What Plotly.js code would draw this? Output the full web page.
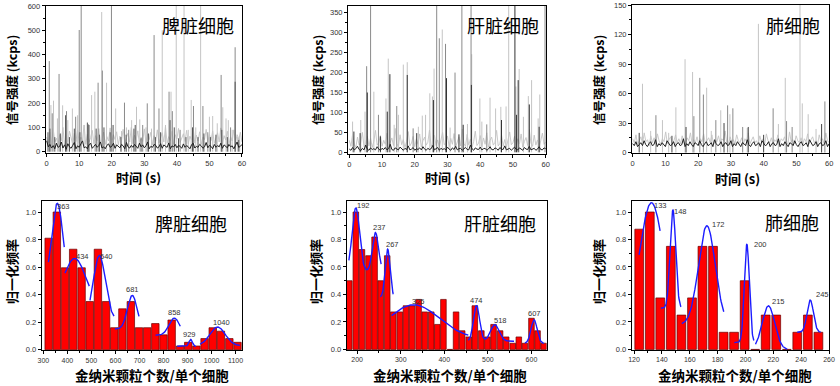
<!DOCTYPE html>
<html><head><meta charset="utf-8">
<script src="https://cdn.plot.ly/plotly-3.0.1.min.js"></script>
<style>html,body{margin:0;padding:0;background:#fff}#c{width:840px;height:386px}</style>
</head><body><div id="c"></div>
<script>
// ---------- Top row: signal time traces (time s, intensity kcps) ----------
const spleenLightSpikes = [[1.3,192],[2.1,210],[3.3,137],[4.9,191],[6.5,130],[7.9,178],[9.5,150],[11.5,110],[13.8,233],[14.8,247],[16.9,575],[18.4,284],[21.2,178],[23.0,85],[24.5,100],[26.1,130],[27.6,185],[28.6,133],[30.5,100],[32.2,95],[35.5,500],[36.5,110],[38.2,247],[39.8,620],[42.2,620],[43.5,90],[44.4,213],[45.8,100],[47.3,620],[50.0,144],[51.0,147],[52.4,117],[54.1,183],[55.1,137],[55.8,130],[57.0,90],[58.6,60],[59.3,65]];
const spleenMidSpikes = [[0.8,373],[1.7,158],[3.8,320],[6.1,167],[8.9,144],[10.0,501],[10.6,620],[12.8,113],[15.8,284],[17.1,334],[19.9,620],[23.9,202],[25.2,90],[29.5,110],[30.9,199],[33.0,480],[34.5,178],[37.6,247],[38.6,167],[41.0,90],[45.1,188],[48.0,188],[49.5,80],[53.6,316],[56.5,100],[57.9,430]];
const spleenDarkSpikes = [[0.4,80],[1.0,95],[2.5,60],[4.2,75],[5.8,150],[7.0,60],[8.5,95],[10.2,80],[12.5,120],[13.0,110],[15.2,95],[16.2,70],[17.6,100],[19.5,80],[20.4,110],[22.8,60],[24.4,70],[26.8,95],[27.2,110],[29.0,55],[31.3,75],[33.4,60],[35.0,80],[37.9,130],[39.2,100],[40.5,55],[42.8,60],[44.8,100],[46.5,60],[48.3,75],[50.3,60],[52.0,70],[53.8,90],[55.5,60],[57.9,288],[59.0,50]];
const spleenGrayNoise = [60,35,80,25,95,40,55,30,70,45,100,28,65,38,85,50,30,75,42,90,35,60,48,110,30,72,40,58,88,33,66,45,95,38,52,80,30,62,44,98,36,70,50,82,28,64,46,92,34,58,76,40,100,32,68,48,86,30,60,42,94,38,72,50,80,28,66,44,90,36,56,78,40,104,34,62,46,84,30,70,52,96,38,58,74,42,88,32,64,48,100,36,68,44,82,30,60,50,92,38,72,46,86,34,56,78,40,98,32,66,48,84,30,62,44,90,36,70,52,80,40];
const spleenDarkNoise = [45,20,30,15,25,12,35,18,22,40,15,28,10,33,20,14,26,38,12,24,18,30,45,16,20,12,28,35,14,22,30,18,25,40,15,20,12,26,32,18,22,35,14,28,20,16,30,24,12,38,20,15,26,18,30,22,14,35,20,28,16,24,40,12,22,18,30,26,15,20,33,14,28,22,18,36,12,24,20,30,16,26,22,14,32,18,25,20,12,28,35,15,22,18,30,24,14,20,38,16,26,22,12,30,18,25,20,35,14,28,22,16,30,20,24,12,26,40,18,22,30];

const liverLightSpikes = [[1.0,77],[3.5,81],[4.8,102],[7.5,152],[11.2,135],[11.9,235],[13.7,69],[15.0,94],[16.5,220],[17.7,226],[21.1,64],[22.3,92],[23.3,94],[24.6,148],[25.4,140],[25.9,210],[28.4,308],[30.8,62],[36.1,71],[37.4,246],[39.9,135],[40.5,77],[43.0,137],[44.7,110],[46.3,114],[47.9,115],[48.7,380],[50.9,165],[51.9,209],[53.2,89],[54.7,141],[55.7,181],[57.7,85],[58.2,145]];
const liverMidSpikes = [[5.3,216],[6.5,380],[8.9,94],[14.5,116],[19.5,60],[26.7,380],[27.5,286],[29.4,272],[32.3,200],[34.4,380],[37.2,380],[42.0,70],[59.8,380]];
const liverDarkSpikes = [[1.4,52],[3.3,48],[5.5,150],[9.5,40],[11.6,102],[12.4,196],[17.7,194],[20.6,48],[25.7,131],[29.7,186],[33.5,45],[34.8,69],[37.3,169],[46.5,81],[50.6,380],[51.1,94],[51.6,181],[55.0,120],[58.0,64]];
const liverGrayNoise = [30,15,45,20,12,38,18,25,50,14,22,40,16,35,12,28,55,18,24,42,15,30,20,48,13,26,36,17,60,22,14,44,19,32,12,27,52,16,23,40,14,34,20,46,13,29,38,18,25,56,15,21,43,17,31,12,28,50,19,24,41,14,35,20,47,13,26,39,16,58,22,15,45,18,33,12,27,53,17,23,42,14,36,20,49,13,30,38,18,25,55,16,22,44,15,32,12,28,51,19,24,40,14,34,21,46,13,27,37,17,57,23,15,43,18,31,12,29,48,20,26];
const liverDarkNoise = [8,5,12,6,9,15,7,4,10,6,18,8,5,11,7,9,6,14,8,5,10,7,12,6,9,20,7,5,11,8,6,13,9,5,10,7,16,6,8,12,5,9,7,11,6,14,8,5,10,7,9,17,6,8,12,5,10,7,9,6,13,8,5,11,7,15,6,9,10,5,8,12,7,6,18,9,5,11,8,7,13,6,9,10,5,8,14,7,6,11,9,5,12,8,7,16,6,9,10,5,8,13,7,6,11,9,5,12,8,7,15,6,9,10,5,8,14,7,6,11,9];

const lungLightSpikes = [[3.0,70],[5.5,22],[9.1,33],[11.0,20],[13.2,46],[16.0,95],[18.3,82],[22.6,66],[24.0,22],[26.9,43],[29.7,39],[35.0,25],[38.4,131],[44.5,29],[46.6,76],[51.1,160],[51.8,50],[53.6,39],[56.0,24]];
const lungMidSpikes = [[7.1,38],[18.7,37],[20.5,76],[21.6,59],[25.4,33],[29.0,48],[30.6,45],[33.6,26],[42.9,45],[47.0,32],[48.7,26],[58.7,52]];
const lungDarkSpikes = [[2.0,20],[12.0,17],[16.3,26],[27.9,30],[35.3,26],[40.0,18],[57.7,29]];
const lungGrayNoise = [14,10,18,8,12,16,9,20,11,13,7,17,10,15,9,19,12,8,14,11,21,9,13,16,8,12,18,10,14,9,17,11,8,15,12,20,9,13,10,16,8,14,11,19,9,12,15,10,18,8,13,11,17,9,14,12,22,10,8,16,11,13,9,18,12,10,15,8,14,11,20,9,13,16,10,12,8,17,11,14,9,19,12,10,15,8,13,11,18,9,14,12,16,10,8,21,11,13,9,17,12,10,15,8,14,11,19,9,13,16,10,12,8,18,11,14,9,20,12,10];
const lungDarkNoise = [9,7,11,6,8,10,7,12,8,6,9,11,7,8,13,6,9,7,10,8,6,12,9,7,8,11,6,9,10,7,8,14,6,9,7,11,8,6,10,9,7,12,8,6,9,11,7,8,10,6,13,9,7,8,11,6,9,10,7,8,12,6,9,7,11,8,6,10,9,7,13,8,6,9,11,7,8,10,6,12,9,7,8,11,6,9,10,7,8,14,6,9,7,11,8,6,10,9,7,12,8,6,9,11,7,8,10,6,13,9,7,8,11,6,9,10,7,8,12,6,9];

// ---------- Bottom row: histograms (particles per cell, normalised frequency) ----------
const spleenBins = [322,356,390,424,459,493,527,561,595,629,664,698,732,766,800,834,869,903,937,971,1005,1039,1074,1108];
const spleenFreq = [0.81,1.0,0.595,0.73,0.595,0.35,0.73,0.35,0.16,0.297,0.35,0.16,0.16,0.19,0.108,0.216,0.027,0.054,0.027,0.081,0.16,0.135,0.081,0.054];
const liverBins = [182,197,211,226,240,254,269,283,298,312,326,341,355,370,384,398,413,427,441,456,470,485,499,513,528,542,557,571,585,600,614,628];
const liverFreq = [0.5,1.0,0.727,0.682,0.818,0.5,0.682,0.273,0.273,0.318,0.318,0.364,0.273,0.273,0.182,0.364,0,0.273,0.136,0.091,0.318,0.136,0.091,0.182,0.136,0.091,0.045,0.091,0.045,0.227,0.136,0.045];
const lungBins = [123.7,131.3,138.8,146.4,154.0,161.6,169.1,176.7,184.3,191.8,199.4,207.0,214.5,222.1,229.7,237.2,244.8,252.4];
const lungFreq = [0.875,1.0,0.375,0.75,0.25,0.375,0.75,0.75,0.125,0.125,0.5,0,0.25,0.25,0,0.125,0.25,0.125];

// Gaussian fits: [from, to, baseline, [[centre, amplitude, sigma], ...]]
const spleenFits = [[321,387,0.45,[[358,0.613,24]]],[390,491,0.3,[[430,0.363,48]]],[494,594,0.22,[[533,0.465,25]]],[598,698,0.15,[[670,0.245,20]]],[767,870,0.105,[[845,0.125,22]]],[857,935,0.025,[[913,0.05,7]]],[952,1118,0.03,[[1025,0.135,32]]]];
const liverFits = [[181,255,0.57,[[197,0.46,8.5],[242,0.28,7]]],[253,283,0.38,[[270,0.35,5.5]]],[279,455,0.08,[[330,0.245,58]]],[455,560,0.06,[[474,0.26,7],[516,0.12,10]]],[585,629,0.045,[[606,0.17,7]]]];
const lungFits = [[123.6,138.7,0,[[132.5,1.068,9.5]]],[139.2,153.8,0.3,[[147.9,0.715,2]]],[154.3,184.4,0.18,[[172.3,0.72,6]]],[192,206,0.05,[[201,0.715,1.8]]],[207.2,230,0,[[216.5,0.317,4.5]]],[237.2,254,0.125,[[246.5,0.235,2.3]]]];

// Peak labels
const spleenPeakText = ['363','434','540','681','858','929','1040'];
const spleenPeakX = [383,461,563,672,846,910,1041];
const spleenPeakY = [1.04,0.675,0.675,0.44,0.27,0.11,0.20];
const liverPeakText = ['192','237','267','325','474','518','607'];
const liverPeakX = [215,250.6,282,340,474.3,529.5,607.7];
const liverPeakY = [1.044,0.884,0.763,0.351,0.358,0.213,0.261];
const lungPeakText = ['133','148','172','200','215','245'];
const lungPeakX = [138.7,153.6,180.8,210.8,223.5,255.2];
const lungPeakY = [1.044,1.007,0.906,0.765,0.346,0.40];

const cellNames = ['脾脏细胞','肝脏细胞','肺细胞'];
const yTitleTop = '信号强度 (kcps)';
const xTitleTop = '时间 (s)';
const yTitleBottom = '归一化频率';
const xTitleBottom = '金纳米颗粒个数/单个细胞';

// ---------- layout helpers ----------
const W = 840, H = 386;
const fx = p => p / W, fy = p => 1 - p / H;
const id = n => n === 1 ? '' : String(n);
const tickFont = {family:'Liberation Sans, Arial, sans-serif', size:7.5, color:'#333'};
const cjk = 'Noto Sans CJK SC, sans-serif';

const traces = [];
function noiseTrace(vals, color, n, w) {
  traces.push({type:'scatter', mode:'lines', x: vals.map((v,i)=> i*60/(vals.length-1)), y: vals,
    xaxis:'x'+id(n), yaxis:'y'+id(n), line:{color, width:w}, hoverinfo:'skip'});
}
function spikeTrace(pairs, color, n, w) {
  const x = [], y = [];
  pairs.forEach(([t,v]) => { x.push(t,t,null); y.push(0,v,null); });
  traces.push({type:'scatter', mode:'lines', x, y, connectgaps:false,
    xaxis:'x'+id(n), yaxis:'y'+id(n), line:{color, width:w}, hoverinfo:'skip'});
}
function barTrace(bins, vals, n, w) {
  traces.push({type:'bar', x: bins, y: vals, width: w, xaxis:'x'+id(n), yaxis:'y'+id(n),
    marker:{color:'#ff0000', line:{color:'#6a0000', width:0.7}}, hoverinfo:'skip'});
}
function fitTraces(fits, n) {
  fits.forEach(([a,b,base,comps]) => {
    const x = [], y = [];
    for (let k = 0; k <= 80; k++) {
      const xv = a + (b - a) * k / 80;
      let yv = base;
      comps.forEach(([c,A,s]) => { yv += A * Math.exp(-(xv-c)*(xv-c)/(2*s*s)); });
      x.push(xv); y.push(yv);
    }
    traces.push({type:'scatter', mode:'lines', x, y, xaxis:'x'+id(n), yaxis:'y'+id(n),
      line:{color:'#1c1cff', width:1.4}, hoverinfo:'skip'});
  });
}

// top row
const light = '#c4c4c4', mid = '#8a8a8a', dark = '#1e1e1e';
noiseTrace(spleenGrayNoise, light, 1, 0.9); spikeTrace(spleenLightSpikes, light, 1, 1);
spikeTrace(spleenMidSpikes, mid, 1, 1); spikeTrace(spleenDarkSpikes, '#555', 1, 1);
noiseTrace(spleenDarkNoise, dark, 1, 1);
noiseTrace(liverGrayNoise, light, 2, 0.9); spikeTrace(liverLightSpikes, light, 2, 1);
spikeTrace(liverMidSpikes, mid, 2, 1); spikeTrace(liverDarkSpikes, '#333', 2, 1);
noiseTrace(liverDarkNoise, dark, 2, 1);
noiseTrace(lungGrayNoise, light, 3, 0.9); spikeTrace(lungLightSpikes, light, 3, 1);
spikeTrace(lungMidSpikes, mid, 3, 1); spikeTrace(lungDarkSpikes, '#444', 3, 1);
noiseTrace(lungDarkNoise, dark, 3, 1);
// bottom row
barTrace(spleenBins, spleenFreq, 4, 31); fitTraces(spleenFits, 4);
barTrace(liverBins, liverFreq, 5, 12.8); fitTraces(liverFits, 5);
barTrace(lungBins, lungFreq, 6, 6.3); fitTraces(lungFits, 6);

// frames in pixels: [left, top, right, bottom]
const frames = {1:[45.7,5.7,242.3,153.3],2:[348,6,546,154],3:[632,5,829.3,153],
                4:[41.7,201,242.3,350.3],5:[346.7,201,546.7,350],6:[631.7,201,829.3,350]};
const xr = {1:[-0.3,60.1],2:[-0.4,60.1],3:[-0.2,60.05],4:[293,1128],5:[176,635],6:[118.3,260.2]};
const yr = {1:[-6.6,601],2:[-4.3,367],3:[-0.5,150.2],4:[-0.004,1.08],5:[-0.004,1.08],6:[-0.004,1.08]};
const xd = {1:[10,5],2:[10,5],3:[10,5],4:[100,50],5:[100,50],6:[20,10]};
const yd = {1:[100,50],2:[50,25],3:[30,15],4:[0.2,0.1],5:[0.2,0.1],6:[0.2,0.1]};

const layout = {width:W, height:H, margin:{l:0,r:0,t:0,b:0}, paper_bgcolor:'#fff', plot_bgcolor:'#fff',
  showlegend:false, bargap:0, barmode:'overlay', annotations:[]};
const axBase = {showline:true, linecolor:'#000', linewidth:1, mirror:true, ticks:'outside', ticklen:3,
  tickwidth:1, tickcolor:'#000', showgrid:false, zeroline:false, tickfont:tickFont, fixedrange:true};
for (let n = 1; n <= 6; n++) {
  const [l,t,r,b] = frames[n];
  layout['xaxis'+id(n)] = Object.assign({}, axBase, {domain:[fx(l),fx(r)], range:xr[n], anchor:'y'+id(n),
    dtick:xd[n][0], tick0:0, minor:{ticks:'outside', ticklen:1.8, tickcolor:'#000', dtick:xd[n][1], tick0:0},
    tickfont: Object.assign({}, tickFont, {size: n>3 ? 7 : 7.5})});
  layout['yaxis'+id(n)] = Object.assign({}, axBase, {domain:[fy(b),fy(t)], range:yr[n], anchor:'x'+id(n),
    dtick:yd[n][0], tick0:0, tickformat: n>3 ? '.1f' : 'd',
    minor:{ticks:'outside', ticklen:1.8, tickcolor:'#000', dtick:yd[n][1], tick0:0}});
}

function ann(text, x, y, size, extra) {
  layout.annotations.push(Object.assign({text, x:fx(x), y:fy(y), xref:'paper', yref:'paper',
    showarrow:false, xanchor:'center', yanchor:'middle', font:{family:cjk, size, color:'#000'}}, extra||{}));
}
// cell labels
ann(cellNames[0], 198, 25, 18); ann(cellNames[1], 503, 25, 18); ann(cellNames[2], 793, 25, 18);
ann(cellNames[0], 191, 223, 18); ann(cellNames[1], 500, 223, 18); ann(cellNames[2], 791.7, 222, 18);
// axis titles
[[12,80],[318,80],[599,80]].forEach(([x,y]) => ann('<b>'+yTitleTop+'</b>', x, y, 12.5, {textangle:-90}));
[[138,177],[447,177],[737,178]].forEach(([x,y]) => ann('<b>'+xTitleTop+'</b>', x, y, 13));
[[11,272],[315,272],[598,272]].forEach(([x,y]) => ann('<b>'+yTitleBottom+'</b>', x, y, 13, {textangle:-90}));
[[152,375],[450,375],[735,375]].forEach(([x,y]) => ann('<b>'+xTitleBottom+'</b>', x, y, 13.5));
// peak labels
function peaks(txt, xs, ys, n) {
  txt.forEach((t,i) => layout.annotations.push({text:t, x:xs[i], y:ys[i], xref:'x'+id(n), yref:'y'+id(n),
    showarrow:false, xanchor:'center', yanchor:'middle', font:{family:'Liberation Sans, Arial', size:7.5, color:'#333'}}));
}
peaks(spleenPeakText, spleenPeakX, spleenPeakY, 4);
peaks(liverPeakText, liverPeakX, liverPeakY, 5);
peaks(lungPeakText, lungPeakX, lungPeakY, 6);

Plotly.newPlot('c', traces, layout, {staticPlot:true, displayModeBar:false});
</script>
</body></html>
